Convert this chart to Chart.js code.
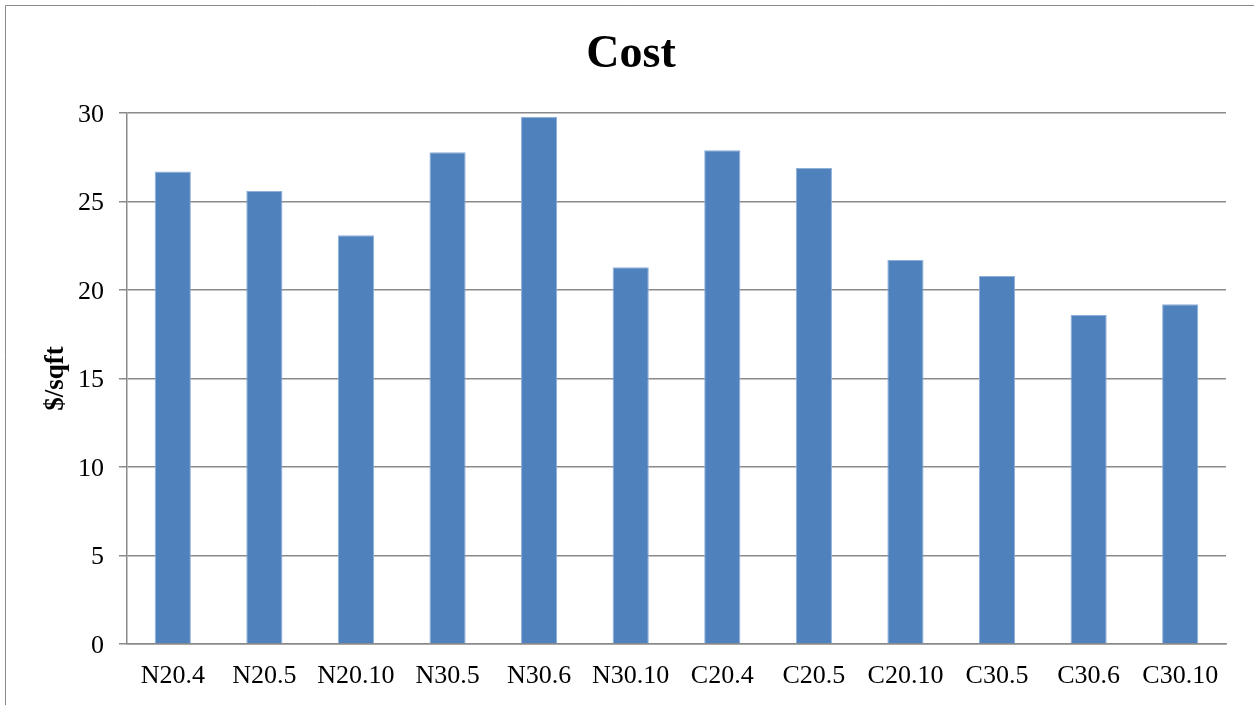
<!DOCTYPE html>
<html>
<head>
<meta charset="utf-8">
<title>Cost</title>
<script src="https://cdn.jsdelivr.net/npm/chart.js@4/dist/chart.umd.min.js"></script>
<style>
  html, body { margin: 0; padding: 0; background: #ffffff; overflow: hidden; }
  #wrap { position: relative; width: 1254px; height: 705px; }
</style>
</head>
<body>
<div id="wrap"><canvas id="chart" width="1254" height="705"></canvas></div>
<script>
// Mix designs and their cost per square foot
const categories = ['N20.4', 'N20.5', 'N20.10', 'N30.5', 'N30.6', 'N30.10',
                    'C20.4', 'C20.5', 'C20.10', 'C30.5', 'C30.6', 'C30.10'];
const costValues = [26.7, 25.6, 23.1, 27.8, 29.8, 21.3, 27.9, 26.9, 21.7, 20.8, 18.6, 19.2];
const yTicks = [0, 5, 10, 15, 20, 25, 30];

const SERIF = '"Liberation Serif", "Times New Roman", serif';
const GRID = '#8a8a8a';

// Thin frame along the top and left edges of the figure
const framePlugin = {
  id: 'frame',
  afterDraw(chart) {
    const ctx = chart.ctx;
    ctx.save();
    ctx.strokeStyle = '#8a8a8a';
    ctx.lineWidth = 1;
    ctx.beginPath();
    ctx.moveTo(5.5, chart.height);
    ctx.lineTo(5.5, 5.5);
    ctx.lineTo(chart.width, 5.5);
    ctx.stroke();
    ctx.restore();
  }
};

new Chart(document.getElementById('chart'), {
  type: 'bar',
  data: {
    labels: categories,
    datasets: [{
      label: 'Cost',
      data: costValues,
      backgroundColor: '#4f81bd',
      borderColor: '#8fb0d9',
      borderWidth: 1,
      categoryPercentage: 1.0,
      barPercentage: 0.395
    }]
  },
  options: {
    responsive: false,
    animation: false,
    devicePixelRatio: 1,
    layout: { padding: { left: 36, right: 28, top: 0, bottom: 0 } },
    plugins: {
      legend: { display: false },
      tooltip: { enabled: false },
      title: {
        display: true,
        text: 'Cost',
        color: '#000000',
        font: { family: SERIF, size: 46, weight: 'bold' },
        padding: { top: 28, bottom: 30 }
      }
    },
    scales: {
      x: {
        grid: { display: false, drawTicks: false },
        border: { display: true, color: GRID, width: 1.5 },
        ticks: {
          color: '#000000',
          font: { family: SERIF, size: 26 },
          padding: 17,
          maxRotation: 0,
          autoSkip: false
        },
        afterFit(scale) { scale.height = 61; }
      },
      y: {
        min: 0,
        max: 30,
        afterBuildTicks(scale) { scale.ticks = yTicks.map(v => ({ value: v })); },
        grid: { color: GRID, lineWidth: 1.5, drawTicks: true, tickLength: 8 },
        border: { display: true, color: GRID, width: 1.5 },
        ticks: {
          color: '#000000',
          font: { family: SERIF, size: 26 },
          padding: 15,
          labelOffset: 2
        },
        title: {
          display: true,
          text: '$/sqft',
          color: '#000000',
          font: { family: SERIF, size: 27, weight: 'bold' },
          padding: { top: 4, bottom: 0 }
        },
        afterFit(scale) { scale.width = 91; }
      }
    }
  },
  plugins: [framePlugin]
});
</script>
</body>
</html>
